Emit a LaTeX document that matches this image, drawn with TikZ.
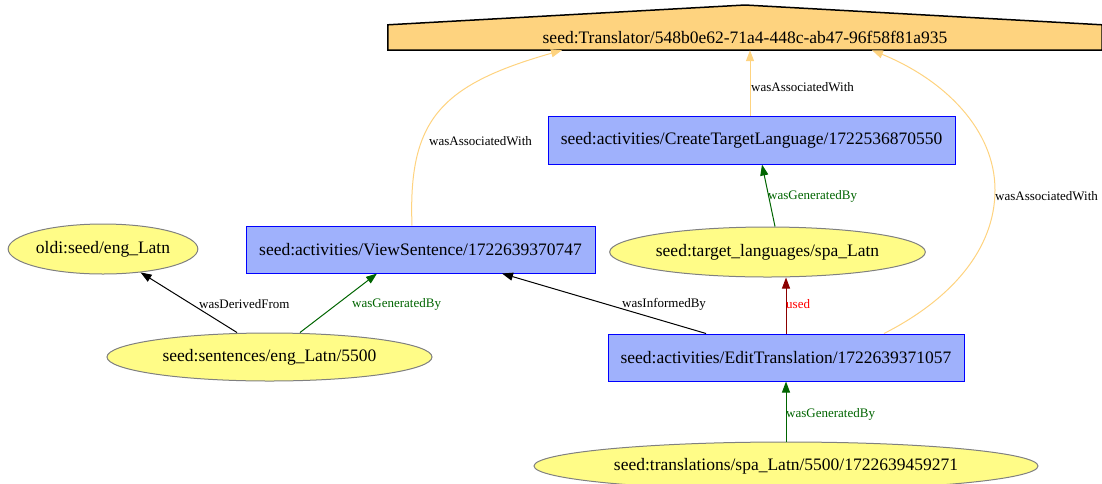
\documentclass[tikz,border=0pt]{standalone}
\usepackage{fontspec}
\setmainfont{Liberation Serif}
\usetikzlibrary{arrows.meta,shapes.geometric,backgrounds}
\definecolor{actfill}{HTML}{9FB1FC}
\definecolor{actdraw}{HTML}{0000FF}
\definecolor{entfill}{HTML}{FFFC87}
\definecolor{entdraw}{HTML}{808080}
\definecolor{agfill}{HTML}{FED37F}
\definecolor{gengreen}{HTML}{006400}
\definecolor{usedred}{HTML}{8B0000}
\tikzset{
  act/.style={rectangle, draw=actdraw, fill=actfill, line width=1pt, inner sep=0pt, font=\fontsize{17.5}{20}\selectfont},
  ent/.style={ellipse, draw=entdraw, fill=entfill, line width=1pt, inner sep=0pt, font=\fontsize{17.5}{20}\selectfont},
  tip/.style={-{Triangle[length=11pt,width=8pt]}},
  assoc/.style={tip, draw=agfill, line width=1pt},
  gen/.style={tip, draw=gengreen, line width=1pt},
  usededge/.style={tip, draw=usedred, line width=1pt},
  plain/.style={tip, draw=black, line width=1pt},
  lbl/.style={font=\fontsize{13}{15}\selectfont, inner sep=0pt, anchor=west},
}
\begin{document}
\begin{tikzpicture}[x=1pt,y=-1pt]
\useasboundingbox (0,0) rectangle (1102,483);
% agent
\node[inner sep=0pt, minimum width=714, minimum height=25, font=\fontsize{17.5}{20}\selectfont] (tr) at (745,37.5) {seed:Translator/548b0e62-71a4-448c-ab47-96f58f81a935};
\begin{scope}[on background layer]
\draw[fill=agfill, draw=black, line width=1.5pt] (tr.south west) -- (tr.north west) -- (tr.north |- 0,5) -- (tr.north east) -- (tr.south east) -- cycle;
\end{scope}
% activities
\node[act, minimum width=407, minimum height=48] (ct) at (751.5,140) {seed:activities/CreateTargetLanguage/1722536870550};
\node[act, minimum width=349, minimum height=47] (vs) at (420.5,249.5) {seed:activities/ViewSentence/1722639370747};
\node[act, minimum width=356, minimum height=47] (et) at (786,357.5) {seed:activities/EditTranslation/1722639371057};
% entities
\node[ent, minimum width=186, minimum height=50] (oldi) at (103,249) {oldi:seed/eng\_Latn};
\node[ent, minimum width=301, minimum height=50] (tl) at (767.5,252) {seed:target\_languages/spa\_Latn};
\node[ent, minimum width=325, minimum height=48] (se) at (269.5,357) {seed:sentences/eng\_Latn/5500};
\node[ent, minimum width=504, minimum height=48] (tt) at (786,466) {seed:translations/spa\_Latn/5500/1722639459271};
% edges
\draw[assoc] (ct.north -| 750,0) -- (tr.south -| 750,0);
\draw[assoc] (vs.north -| 412,0) .. controls (408,120) and (440,85) .. (tr.south -| 562,0);
\draw[assoc] (et.north -| 884,0) .. controls (950,300) and (995,250) .. (995,190) .. controls (995,130) and (945,80) .. (tr.south -| 872,0);
\draw[gen] (tl.north -| 775,0) -- (ct.south -| 762,0);
\draw[plain] (se.north -| 237,0) -- (oldi);
\draw[gen] (se.north -| 300,0) -- (vs.south -| 377,0);
\draw[plain] (et.north -| 706,0) -- (vs.south -| 502,0);
\draw[usededge] (et.north) -- (et.north |- tl.south);
\draw[gen] (tt.north) -- (et.south);
% labels
\node[lbl] (l1) at (751,87) {wasAssociatedWith};
\node[lbl] (l2) at (429,141) {wasAssociatedWith};
\node[lbl] (l3) at (995,196) {wasAssociatedWith};
\node[lbl, text=gengreen] (l4) at (768,196) {wasGeneratedBy};
\node[lbl] (l5) at (199,304) {wasDerivedFrom};
\node[lbl, text=gengreen] (l6) at (352,304) {wasGeneratedBy};
\node[lbl] (l7) at (622,304) {wasInformedBy};
\node[lbl, text=red] (l8) at (786,304) {used};
\node[lbl, text=gengreen] (l9) at (786,414) {wasGeneratedBy};
\end{tikzpicture}
\end{document}
